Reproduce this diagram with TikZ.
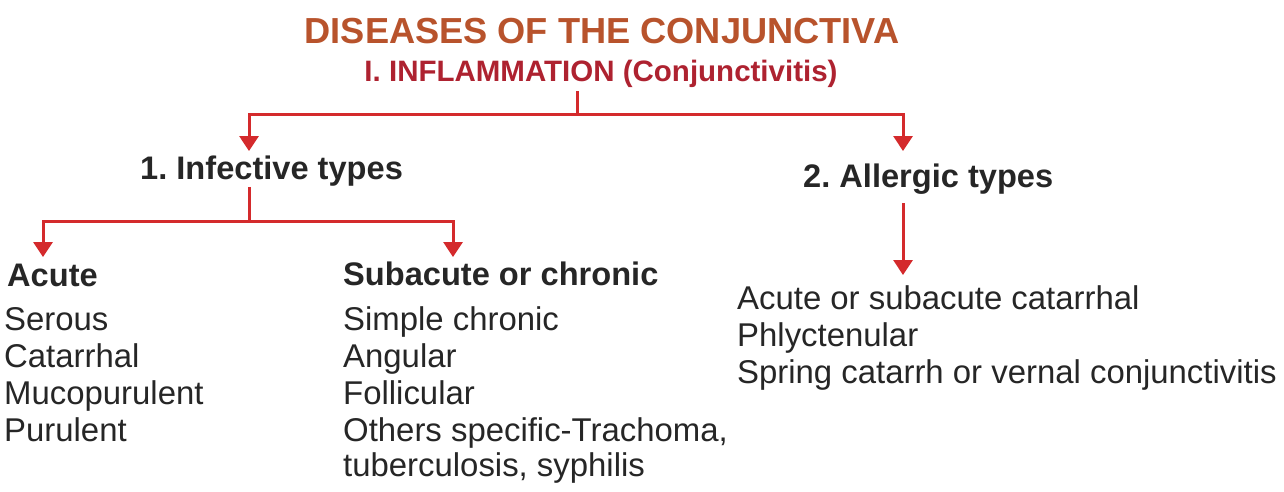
\documentclass[tikz,border=0pt]{standalone}
\usepackage{fontspec}
\setmainfont{Liberation Sans}
\usetikzlibrary{arrows.meta}
\definecolor{titlec}{HTML}{B8532C}
\definecolor{subc}{HTML}{AE2230}
\definecolor{linec}{HTML}{D42A2C}
\definecolor{txt}{HTML}{262626}
\frenchspacing
\begin{document}
\begin{tikzpicture}[x=1pt,y=-1pt,
  lbl/.style={inner sep=0pt, anchor=base west, text=txt},
  head/.style={lbl, font=\fontsize{32.6}{36}\selectfont\bfseries},
  item/.style={lbl, font=\fontsize{32.9}{36}\selectfont},
  conn/.style={draw=linec, line width=3pt},
  arr/.style={conn, -{Triangle[width=19pt,length=15pt]}}]
\useasboundingbox[fill=white] (0,0) rectangle (1284,491);
% titles
\node[anchor=base, inner sep=0pt, text=titlec, font=\fontsize{36.2}{40}\selectfont\bfseries] (title) at (602,43) {DISEASES OF THE CONJUNCTIVA};
\node[anchor=base, inner sep=0pt, text=subc, font=\fontsize{29.5}{33}\selectfont\bfseries] (sub) at (601,81) {I. INFLAMMATION (Conjunctivitis)};
% headings
\node[head] (inf) at (140,179) {1. Infective types};
\node[head] (all) at (803,187) {2. Allergic types};
\node[head] (acute) at (7,286) {Acute};
\node[head] (subac) at (343,285) {Subacute or chronic};
% acute list
\node[item] (a1) at (4,330) {Serous};
\node[item] (a2) at (4,367) {Catarrhal};
\node[item] (a3) at (4,404) {Mucopurulent};
\node[item] (a4) at (4,441) {Purulent};
% subacute list
\node[item] (s1) at (343,330) {Simple chronic};
\node[item] (s2) at (343,367) {Angular};
\node[item] (s3) at (343,404) {Follicular};
\node[item] (s4) at (343,441) {Others specific-Trachoma,};
\node[item] (s5) at (343,476) {tuberculosis, syphilis};
% allergic list
\node[item] (l1) at (737,309) {Acute or subacute catarrhal};
\node[item] (l2) at (737,346) {Phlyctenular};
\node[item] (l3) at (737,383) {Spring catarrh or vernal conjunctivitis};
% connector points
\coordinate (b1) at (577,114);
\coordinate (t1) at (249,151);
\coordinate (t2) at (903,151);
\coordinate (b2) at (249,221);
\coordinate (t3) at (43,257);
\coordinate (t4) at (453,257);
\coordinate (t5) at (903,275);
% connectors
\draw[conn] ([yshift=-4pt]sub.south -| b1) -- (b1);
\draw[arr] (b1) -| (t1);
\draw[arr] (b1) -| (t2);
\draw[conn] ([yshift=-1pt]inf.south -| b2) -- (b2);
\draw[arr] (b2) -| (t3);
\draw[arr] (b2) -| (t4);
\draw[arr] ([yshift=-9pt]all.south -| t5) -- (t5);
\end{tikzpicture}
\end{document}
